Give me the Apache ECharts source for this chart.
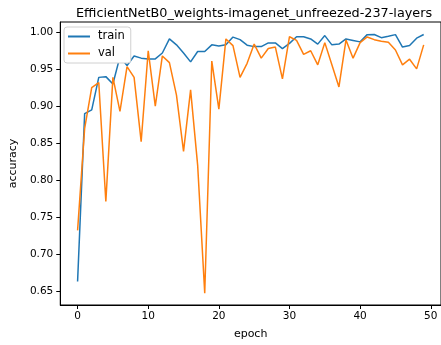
<!DOCTYPE html>
<html><head><meta charset="utf-8">
<script src="https://cdn.jsdelivr.net/npm/echarts@6/dist/echarts.min.js"></script>
<style>html,body{margin:0;padding:0;background:#fff}#c{width:441px;height:345px}</style>
</head><body><div id="c"></div>
<script>
const epochs = Array.from({length:50},(_,i)=>i);
const train = [0.663,0.890,0.895,0.939,0.940,0.930,0.967,0.955,0.968,0.965,
  0.964,0.964,0.972,0.991,0.983,0.972,0.960,0.974,0.974,0.983,
  0.9815,0.983,0.9935,0.990,0.9825,0.9806,0.9806,0.9856,0.9856,0.978,
  0.985,0.994,0.994,0.991,0.984,0.9955,0.983,0.984,0.991,0.989,
  0.987,0.9968,0.997,0.9927,0.9946,0.9968,0.980,0.982,0.992,0.997];
const val = [0.732,0.870,0.925,0.932,0.771,0.939,0.893,0.9536,0.939,0.852,
  0.975,0.900,0.968,0.959,0.915,0.839,0.922,0.820,0.647,0.961,
  0.896,0.991,0.982,0.939,0.958,0.984,0.965,0.978,0.980,0.937,
  0.994,0.989,0.970,0.975,0.956,0.986,0.956,0.926,0.9896,0.965,
  0.986,0.9937,0.990,0.988,0.9865,0.976,0.956,0.9636,0.9505,0.983];
const xTicks = [0,10,20,30,40,50];
const yTicks = [0.65,0.70,0.75,0.80,0.85,0.90,0.95,1.00];

const font = 'DejaVu Sans';
const chart = echarts.init(document.getElementById('c'), null, {renderer:'canvas'});
chart.setOption({
  animation:false,
  title:{text:'EfficientNetB0_weights-imagenet_unfreezed-237-layers', left:71, top:2,
    textStyle:{fontFamily:font, fontSize:12.8, fontWeight:'normal', color:'#000'}},
  grid:{left:59, right:0, top:22, bottom:39, show:true, borderColor:'#000', borderWidth:1, backgroundColor:'transparent'},
  legend:{orient:'vertical', left:64, top:27, data:['train','val'], icon:'rect', itemWidth:22, itemHeight:2,
    itemGap:4, padding:[3,6,3,4], backgroundColor:'#fff', borderColor:'#d0d0d0', borderWidth:1, borderRadius:3,
    textStyle:{fontFamily:font, fontSize:11.5, color:'#000', padding:[0,0,0,3], lineHeight:13}},
  xAxis:{type:'value', min:-2.45, max:51.45, name:'epoch', nameLocation:'middle', nameGap:24,
    nameTextStyle:{fontFamily:font, fontSize:11, color:'#000'},
    axisLine:{show:true, onZero:false, lineStyle:{color:'#000'}},
    axisTick:{show:true, length:4, customValues:xTicks, lineStyle:{color:'#000'}},
    axisLabel:{customValues:xTicks, fontFamily:font, fontSize:10.5, color:'#000', margin:6},
    splitLine:{show:false}},
  yAxis:{type:'value', min:0.6311, max:1.0139, name:'accuracy', nameLocation:'middle', nameGap:38,
    nameTextStyle:{fontFamily:font, fontSize:11, color:'#000'},
    axisLine:{show:true, onZero:false, lineStyle:{color:'#000'}},
    axisTick:{show:true, length:4, customValues:yTicks, lineStyle:{color:'#000'}},
    axisLabel:{customValues:yTicks, fontFamily:font, fontSize:10.5, color:'#000', margin:7,
      formatter:v=>v.toFixed(2)},
    splitLine:{show:false}},
  series:[
    {name:'train', type:'line', data:epochs.map((e,i)=>[e,train[i]]), symbol:'none', lineStyle:{color:'#1f77b4', width:1.5}, itemStyle:{color:'#1f77b4'}},
    {name:'val', type:'line', data:epochs.map((e,i)=>[e,val[i]]), symbol:'none', lineStyle:{color:'#ff7f0e', width:1.5}, itemStyle:{color:'#ff7f0e'}}
  ]
});
</script></body></html>
